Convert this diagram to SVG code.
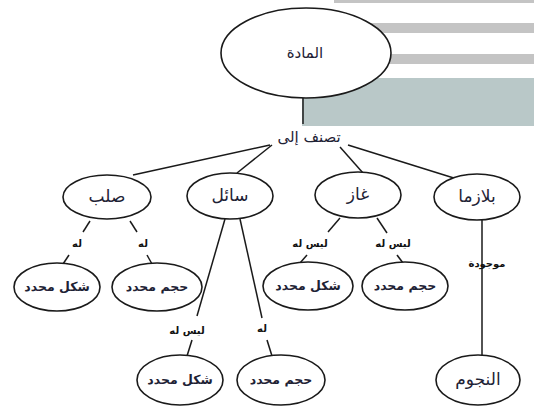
<svg xmlns="http://www.w3.org/2000/svg" width="534" height="411" viewBox="0 0 534 411">
<style>
.node{fill:#fff;stroke:#1a1a1a;stroke-width:1.6}
.t{font-family:"DejaVu Sans",sans-serif;font-size:17px;fill:#1e2235;text-anchor:middle;dominant-baseline:central}
.m{font-size:15px}
.s{font-size:12.5px;font-weight:bold}
.lb{font-family:"DejaVu Sans",sans-serif;font-size:10px;font-weight:bold;fill:#111;text-anchor:middle;dominant-baseline:central}
.c{stroke:#1a1a1a;stroke-width:1.5;fill:none}
</style>
<g id="background">
<rect x="334" y="0" width="200" height="3" fill="#c4c4c4"/>
<rect x="334" y="23" width="200" height="10" fill="#c4c4c4"/>
<rect x="334" y="54" width="200" height="10" fill="#c4c4c4"/>
<rect x="302" y="78" width="232" height="48" fill="#b9c8c8"/>
</g>
<g id="connectors">
<line class="c" x1="303" y1="97" x2="303" y2="124"/>
<line class="c" x1="270" y1="145" x2="133" y2="175"/>
<line class="c" x1="272" y1="145" x2="237" y2="173"/>
<line class="c" x1="340" y1="147" x2="363" y2="173"/>
<line class="c" x1="348" y1="145" x2="457" y2="179"/>
<line class="c" x1="90" y1="221" x2="83" y2="232"/>
<line class="c" x1="69" y1="255" x2="63" y2="264"/>
<line class="c" x1="130" y1="221" x2="137" y2="232"/>
<line class="c" x1="147" y1="255" x2="152" y2="264"/>
<line class="c" x1="225" y1="219" x2="197" y2="316"/>
<line class="c" x1="192" y1="340" x2="187" y2="356"/>
<line class="c" x1="240" y1="219" x2="262" y2="318"/>
<line class="c" x1="267" y1="340" x2="272" y2="356"/>
<line class="c" x1="340" y1="218" x2="328" y2="232"/>
<line class="c" x1="307" y1="255" x2="300" y2="263"/>
<line class="c" x1="377" y1="218" x2="387" y2="233"/>
<line class="c" x1="397" y1="255" x2="403" y2="263"/>
<line class="c" x1="482" y1="220" x2="482" y2="356"/>
<text class="t m" x="309" y="137">تصنف إلى</text>
<text class="lb" x="77" y="243">له</text>
<text class="lb" x="143" y="243">له</text>
<text class="lb" x="187" y="330">ليس له</text>
<text class="lb" x="262" y="328">له</text>
<text class="lb" x="310" y="243">ليس له</text>
<text class="lb" x="393" y="243">ليس له</text>
<text class="lb" x="487" y="263">موجودة</text>
</g>
<g id="n-matter"><ellipse class="node" cx="306" cy="53" rx="85" ry="45"/><text class="t m" x="305" y="53">المادة</text></g>
<g id="n-solid"><ellipse class="node" cx="107" cy="197" rx="44" ry="22"/><text class="t" x="107" y="196">صلب</text></g>
<g id="n-liquid"><ellipse class="node" cx="230" cy="196" rx="43" ry="23"/><text class="t" x="230" y="195">سائل</text></g>
<g id="n-gas"><ellipse class="node" cx="358" cy="195" rx="43" ry="23"/><text class="t" x="358" y="194">غاز</text></g>
<g id="n-plasma"><ellipse class="node" cx="477" cy="197" rx="43" ry="23"/><text class="t" x="477" y="196">بلازما</text></g>
<g id="n-solid-shape"><ellipse class="node" cx="57" cy="287" rx="43" ry="24"/><text class="t s" x="57" y="286">شكل محدد</text></g>
<g id="n-solid-volume"><ellipse class="node" cx="157" cy="287" rx="45" ry="24"/><text class="t s" x="157" y="286">حجم محدد</text></g>
<g id="n-gas-shape"><ellipse class="node" cx="308" cy="286" rx="45" ry="24"/><text class="t s" x="308" y="285">شكل محدد</text></g>
<g id="n-gas-volume"><ellipse class="node" cx="405" cy="286" rx="43" ry="24"/><text class="t s" x="405" y="285">حجم محدد</text></g>
<g id="n-liquid-shape"><ellipse class="node" cx="180" cy="380" rx="43" ry="25"/><text class="t s" x="180" y="379">شكل محدد</text></g>
<g id="n-liquid-volume"><ellipse class="node" cx="281" cy="380" rx="44" ry="25"/><text class="t s" x="281" y="379">حجم محدد</text></g>
<g id="n-stars"><ellipse class="node" cx="478" cy="380" rx="42" ry="25"/><text class="t" x="478" y="379">النجوم</text></g>
</svg>
